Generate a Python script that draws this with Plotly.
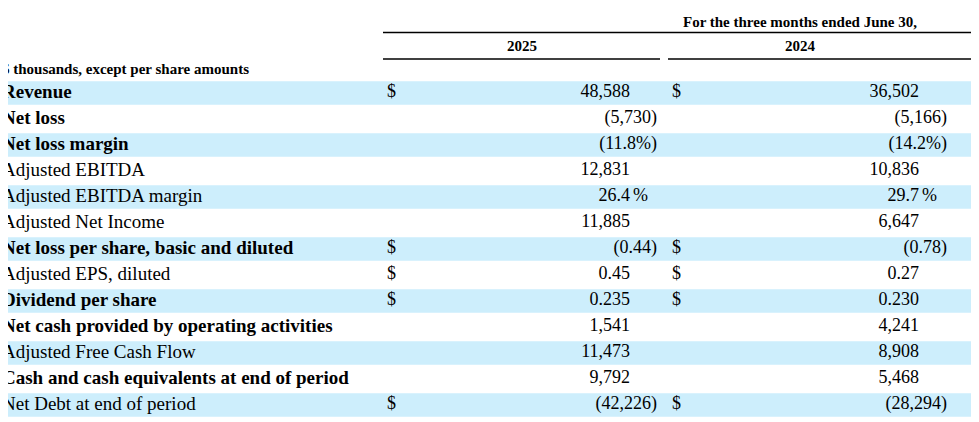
import plotly.graph_objects as go

labels = ["Revenue", "Net loss", "Net loss margin", "Adjusted EBITDA", "Adjusted EBITDA margin",
          "Adjusted Net Income", "Net loss per share, basic and diluted", "Adjusted EPS, diluted",
          "Dividend per share", "Net cash provided by operating activities", "Adjusted Free Cash Flow",
          "Cash and cash equivalents at end of period", "Net Debt at end of period"]
bold = [1, 1, 1, 0, 0, 0, 1, 0, 1, 1, 0, 1, 0]
dollar = [1, 0, 0, 0, 0, 0, 1, 1, 1, 0, 0, 0, 1]
v2025 = ["48,588", "(5,730)", "(11.8%)", "12,831", "26.4", "11,885", "(0.44)", "0.45", "0.235",
         "1,541", "11,473", "9,792", "(42,226)"]
v2024 = ["36,502", "(5,166)", "(14.2%)", "10,836", "29.7", "6,647", "(0.78)", "0.27", "0.230",
         "4,241", "8,908", "5,468", "(28,294)"]
pct_rows = [4]
years = ["2025", "2024"]
header = "For the three months ended June 30,"
unit_note = "$ thousands, except per share amounts"

FONT = "Liberation Serif"
rows = list(range(len(labels)))
fig = go.Figure()

shapes = []
for i in rows:
    if i % 2 == 0:
        shapes.append(dict(type="rect", xref="x", yref="y", x0=0, x1=979, y0=i - 0.45, y1=i + 0.45,
                           fillcolor="#cdeefc", line_width=0, layer="below"))
shapes += [
    dict(type="line", xref="x", yref="y", x0=383, x1=975, y0=-2.33, y1=-2.33, line=dict(color="black", width=1.5)),
    dict(type="line", xref="x", yref="y", x0=383, x1=660, y0=-1.31, y1=-1.31, line=dict(color="black", width=1.5)),
    dict(type="line", xref="x", yref="y", x0=668, x1=975, y0=-1.31, y1=-1.31, line=dict(color="black", width=1.5)),
]


def txt(x, y, t, pos, size=19):
    fig.add_trace(go.Scatter(x=x, y=y, text=t, mode="text", textposition=pos,
                             textfont=dict(family=FONT, size=size, color="black"),
                             hoverinfo="skip", showlegend=False))


txt([2] * len(rows), rows, [f"<b>{l}</b>" if b else l for l, b in zip(labels, bold)], "middle right")

for col, vals, dx, plain_end, paren_end, pct_x in [(0, v2025, 387, 630, 657, 648), (1, v2024, 672, 919, 947, 937)]:
    drows = [i for i in rows if dollar[i]]
    txt([dx] * len(drows), drows, ["$"] * len(drows), "middle right", 18)
    pr = [i for i in rows if vals[i].startswith("(")]
    nr = [i for i in rows if not vals[i].startswith("(")]
    txt([paren_end] * len(pr), pr, [vals[i] for i in pr], "middle left", 18)
    txt([plain_end] * len(nr), nr, [vals[i] for i in nr], "middle left", 18)
    txt([pct_x] * len(pct_rows), pct_rows, ["%"] * len(pct_rows), "middle left", 18)

txt([800], [-2.69], [f"<b>{header}</b>"], "middle center", 15)
txt([522, 800], [-1.77, -1.77], [f"<b>{y}</b>" for y in years], "middle center", 15)
txt([2], [-0.88], [f"<b>{unit_note}</b>"], "middle right", 15)

# the page body adds an 8px margin, so the axes are shifted to compensate
fig.update_layout(
    width=979, height=422, margin=dict(l=0, r=0, t=0, b=0),
    paper_bgcolor="white", plot_bgcolor="white", shapes=shapes,
    xaxis=dict(range=[8, 987], visible=False, fixedrange=True),
    yaxis=dict(range=[12.962, -3.269], visible=False, fixedrange=True),
)
fig.write_html("out.html")
